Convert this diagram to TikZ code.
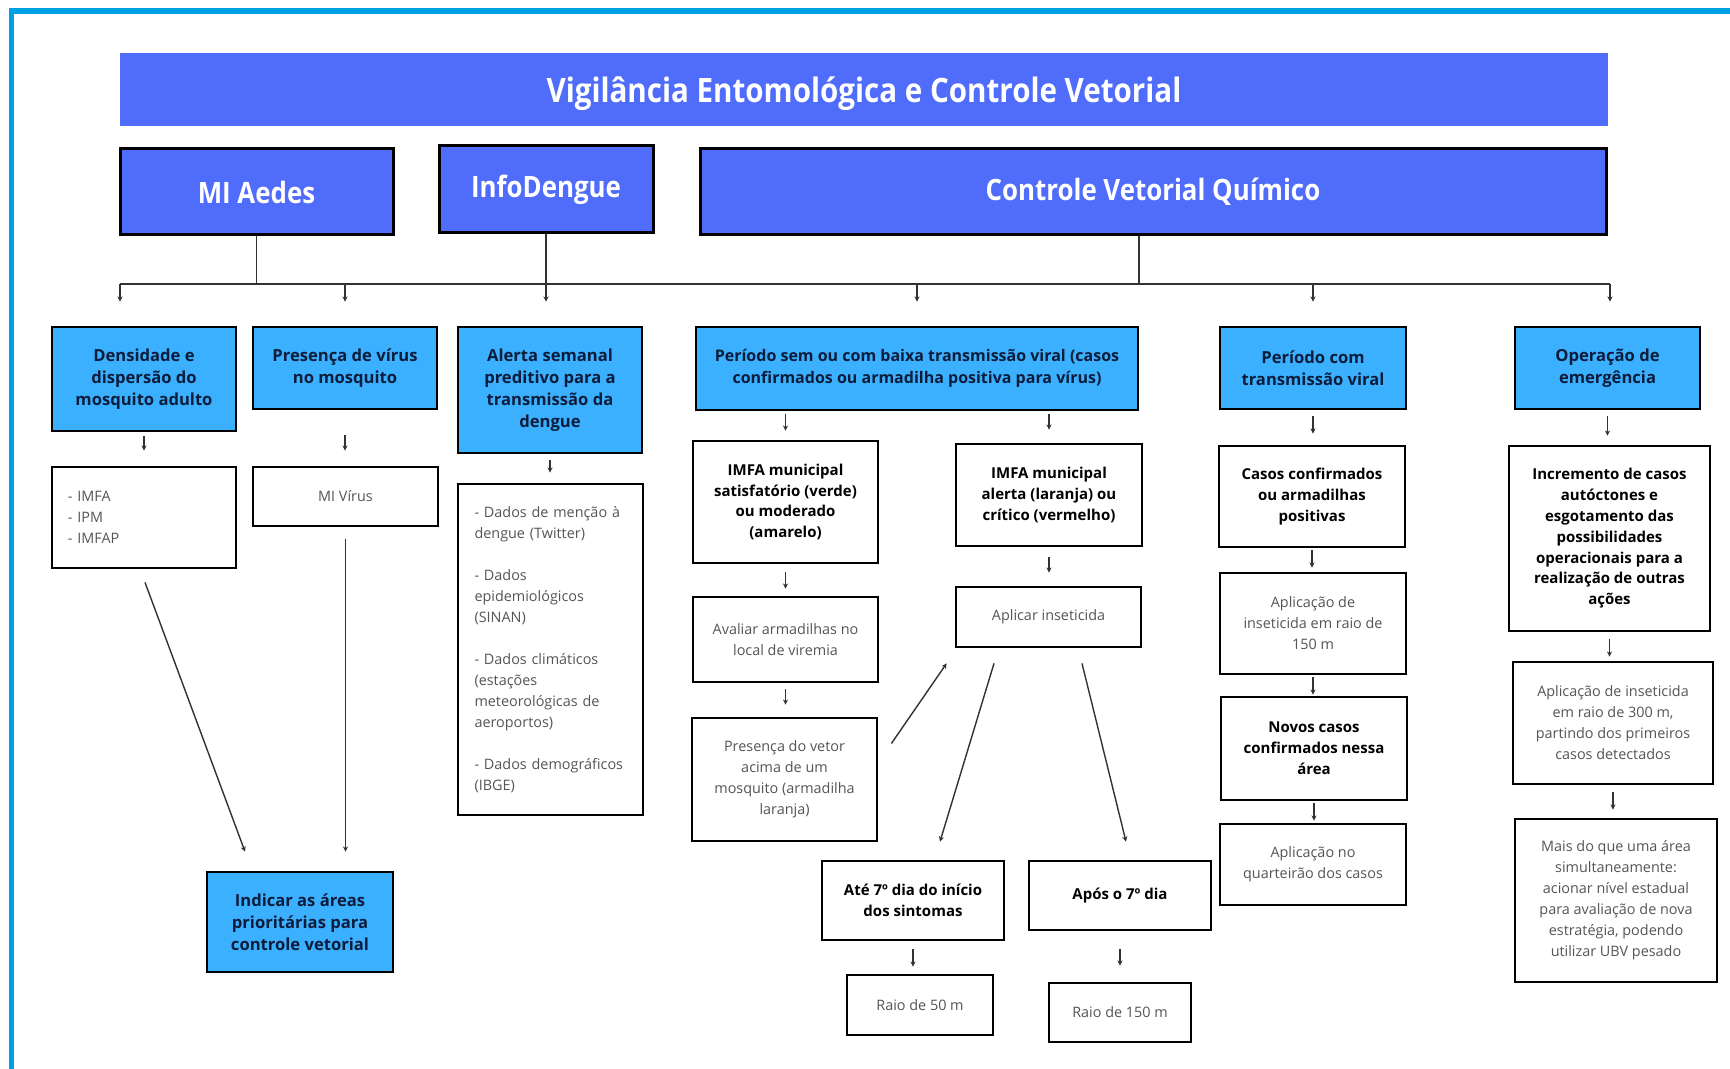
\documentclass[tikz,border=0pt]{standalone}
\usepackage{fontspec}
\setmainfont{Open Sans}
\newfontfamily\headfont[FakeStretch=0.88]{Open Sans}
\usetikzlibrary{arrows.meta,calc}
\definecolor{framecol}{RGB}{0,160,228}
\definecolor{headblue}{RGB}{80,108,250}
\definecolor{catblue}{RGB}{58,176,255}
\definecolor{navytxt}{RGB}{12,28,58}
\definecolor{greytxt}{RGB}{85,85,85}
\definecolor{linegrey}{RGB}{50,50,50}
\tikzset{
  titlebar/.style={fill=headblue, text=white, inner sep=0pt,
    font=\headfont\bfseries\fontsize{16.8}{19}\selectfont},
  headbox/.style={titlebar, draw=black, line width=1.5pt,
    font=\headfont\bfseries\fontsize{14.7}{17}\selectfont},
  catbox/.style={fill=catblue, draw=black, line width=1.4pt, text=navytxt,
    align=center, inner sep=0pt, font=\bfseries\fontsize{8.3}{11}\selectfont},
  keybox/.style={draw=black, fill=white, line width=1.4pt, text=black,
    align=center, inner sep=0pt, font=\bfseries\fontsize{7.5}{10.4}\selectfont},
  infobox/.style={draw=black, fill=white, line width=1.4pt, text=greytxt,
    align=center, inner sep=0pt, font=\fontsize{7.2}{10.5}\selectfont},
  arr/.style={draw=linegrey, line width=0.7pt, -{Stealth[length=2.6pt,width=2.6pt]}},
  link/.style={draw=linegrey, line width=0.7pt},
}
\begin{document}
\begin{tikzpicture}[x=0.5pt,y=-0.5pt]
\useasboundingbox (0,0) rectangle (1730,1069);
% frame
\fill[framecol] (8.5,8.5) rectangle (1730,14);
\fill[framecol] (8.5,8.5) rectangle (14,1069);
% title and the three programmes
\node[titlebar, text depth=0pt, minimum width=744pt, minimum height=36.5pt] (title) at (864,89.5) {Vigilância Entomológica e Controle Vetorial};
\node[headbox, minimum width=136.5pt, minimum height=43pt] (aedes) at (256.5,192) {MI Aedes};
\node[headbox, minimum width=107pt, minimum height=43.5pt] (info) at (546,189.5) {InfoDengue};
\node[headbox, minimum width=453pt, minimum height=43pt] (quimico) at (1153,192) {Controle Vetorial Químico};
% second level
\node[catbox, minimum width=92pt, minimum height=52pt] (dens) at (144,379) {Densidade e\\dispersão do\\mosquito adulto};
\node[catbox, minimum width=92pt, minimum height=41pt] (virus) at (345,368) {Presença de vírus\\no mosquito};
\node[catbox, minimum width=92pt, minimum height=63pt] (alerta) at (550,390) {Alerta semanal\\preditivo para a\\transmissão da\\dengue};
\node[catbox, minimum width=221pt, minimum height=41.5pt, font=\bfseries\fontsize{8}{11}\selectfont] (semb) at (917,368.5) {Período sem ou com baixa transmissão viral (casos\\confirmados ou armadilha positiva para vírus)};
\node[catbox, minimum width=93pt, minimum height=41pt] (comt) at (1313,368) {Período com\\transmissão viral};
\node[catbox, minimum width=92.5pt, minimum height=41pt] (emerg) at (1607.5,368) {Operação de\\emergência};
% MI Aedes and InfoDengue branches
\node[infobox, minimum width=92pt, minimum height=50.5pt, align=left, text width=76pt] (imfa) at (144,517.5) {- IMFA\\- IPM\\- IMFAP};
\node[infobox, minimum width=92.5pt, minimum height=29.5pt] (mivirus) at (345.5,496.5) {MI Vírus};
\node[infobox, minimum width=92.5pt, minimum height=165.5pt, align=left, text width=76pt] (dados) at (550.5,649.5) {- Dados de menção à\\dengue (Twitter)\\[10.5pt]- Dados\\epidemiológicos\\(SINAN)\\[10.5pt]- Dados climáticos\\(estações\\meteorológicas de\\aeroportos)\\[10.5pt]- Dados demográficos\\(IBGE)};
\node[catbox, minimum width=93pt, minimum height=50pt] (indicar) at (300,922) {Indicar as áreas\\prioritárias para\\controle vetorial};
% low transmission branch
\node[keybox, minimum width=92.5pt, minimum height=61pt] (imfasat) at (785.5,502) {IMFA municipal\\satisfatório (verde)\\ou moderado\\(amarelo)};
\node[keybox, minimum width=93pt, minimum height=51pt] (imfaalert) at (1049,495) {IMFA municipal\\alerta (laranja) ou\\crítico (vermelho)};
\node[infobox, minimum width=92.5pt, minimum height=42.5pt] (avaliar) at (785.5,639.5) {Avaliar armadilhas no\\local de viremia};
\node[infobox, minimum width=92.5pt, minimum height=30pt] (aplicar) at (1048.5,617) {Aplicar inseticida};
\node[infobox, minimum width=92.5pt, minimum height=61.5pt] (vetor) at (784.5,779.5) {Presença do vetor\\acima de um\\mosquito (armadilha\\laranja)};
\node[keybox, minimum width=91pt, minimum height=39.5pt] (ate7) at (913,900.5) {Até 7º dia do início\\dos sintomas};
\node[keybox, minimum width=91pt, minimum height=34.5pt] (apos7) at (1120,895.5) {Após o 7º dia};
\node[infobox, minimum width=73pt, minimum height=30pt] (raio50) at (920,1005) {Raio de 50 m};
\node[infobox, minimum width=71pt, minimum height=29.5pt] (raio150) at (1120,1012.5) {Raio de 150 m};
% transmission branch
\node[keybox, minimum width=93pt, minimum height=50.5pt] (casos) at (1312,496.5) {Casos confirmados\\ou armadilhas\\positivas};
\node[infobox, minimum width=93pt, minimum height=50.5pt] (apl150) at (1313,623.5) {Aplicação de\\inseticida em raio de\\150 m};
\node[keybox, minimum width=93pt, minimum height=51.5pt] (novos) at (1314,748.5) {Novos casos\\confirmados nessa\\área};
\node[infobox, minimum width=93pt, minimum height=40.5pt] (quart) at (1313,864.5) {Aplicação no\\quarteirão dos casos};
% emergency branch
\node[keybox, minimum width=100.5pt, minimum height=92.5pt] (incr) at (1609.5,538.5) {Incremento de casos\\autóctones e\\esgotamento das\\possibilidades\\operacionais para a\\realização de outras\\ações};
\node[infobox, minimum width=100pt, minimum height=61pt] (apl300) at (1613,723) {Aplicação de inseticida\\em raio de 300 m,\\partindo dos primeiros\\casos detectados};
\node[infobox, minimum width=101pt, minimum height=81.5pt] (mais) at (1616,900.5) {Mais do que uma área\\simultaneamente:\\acionar nível estadual\\para avaliação de nova\\estratégia, podendo\\utilizar UBV pesado};
% bus under the programmes
\coordinate (busL) at (120,284);
\coordinate (busR) at (1610,284);
\draw[link] (busL) -- (busR);
\draw[link] (aedes.south) -- (aedes.south |- busL);
\draw[link] ($(quimico.south)+(-14,0)$) -- ($(quimico.south |- busL)+(-14,0)$);
\draw[arr, shorten >=12pt] (busL) -- (busL |- dens.north);
\draw[arr, shorten >=12pt] (virus.north |- busL) -- (virus.north);
\draw[arr, shorten >=12pt] (info.south) -- (info.south |- alerta.north);
\draw[arr, shorten >=12pt] (semb.north |- busL) -- (semb.north);
\draw[arr, shorten >=12pt] (comt.north |- busL) -- (comt.north);
\draw[arr, shorten >=12pt] (busR) -- (busR |- emerg.north);
% short steps
\draw[arr, shorten <=2pt, shorten >=7.5pt] (dens.south) -- (dens.south |- imfa.north);
\draw[arr, shorten <=12.5pt, shorten >=7.5pt] (virus.south) -- (virus.south |- mivirus.north);
\draw[arr, shorten <=3pt, shorten >=5pt] (alerta.south) -- (alerta.south |- dados.north);
\draw[arr, shorten <=1.5pt, shorten >=4.5pt] (imfasat.north |- semb.south) -- (imfasat.north);
\draw[arr, shorten <=1.5pt, shorten >=6.5pt] (imfaalert.north |- semb.south) -- (imfaalert.north);
\draw[arr, shorten <=4pt, shorten >=3.5pt] (imfasat.south) -- (imfasat.south |- avaliar.north);
\draw[arr, shorten <=3pt, shorten >=6pt] (avaliar.south) -- (avaliar.south |- vetor.north);
\draw[arr, shorten <=5pt, shorten >=6.5pt] (imfaalert.south) -- (imfaalert.south |- aplicar.north);
\draw[arr, shorten <=4pt, shorten >=3.5pt] (ate7.south) -- (ate7.south |- raio50.north);
\draw[arr, shorten <=9pt, shorten >=8pt] (apos7.south) -- (apos7.south |- raio150.north);
\draw[arr, shorten <=3pt, shorten >=5.5pt] (comt.south) -- (comt.south |- casos.north);
\draw[arr, shorten <=1pt, shorten >=2pt] (casos.south) -- (casos.south |- apl150.north);
\draw[arr, shorten <=1pt, shorten >=0.5pt] (apl150.south) -- (apl150.south |- novos.north);
\draw[arr, shorten <=1pt, shorten >=1pt] (novos.south) -- (novos.south |- quart.north);
\draw[arr, shorten <=3pt, shorten >=4.5pt] (emerg.south) -- (emerg.south |- incr.north);
\draw[arr, shorten <=3.5pt, shorten >=2pt] (incr.south) -- (incr.south |- apl300.north);
\draw[arr, shorten <=3.5pt, shorten >=4pt] (apl300.south) -- (apl300.south |- mais.north);
% long links
\draw[arr] ($(imfa.south)+(1,13)$) -- ($(indicar.north)+(-55,-19)$);
\draw[arr, shorten <=6pt, shorten >=9.5pt] (mivirus.south) -- (mivirus.south |- indicar.north);
\draw[arr] ($(vetor.east)+(13,-36)$) -- ($(aplicar.south west)+(-8,15)$);
\draw[arr] ($(aplicar.south)+(-54.5,15)$) -- ($(ate7.north)+(27,-18)$);
\draw[arr] ($(aplicar.south)+(33.5,15)$) -- ($(apos7.north)+(6,-18)$);
\end{tikzpicture}
\end{document}
